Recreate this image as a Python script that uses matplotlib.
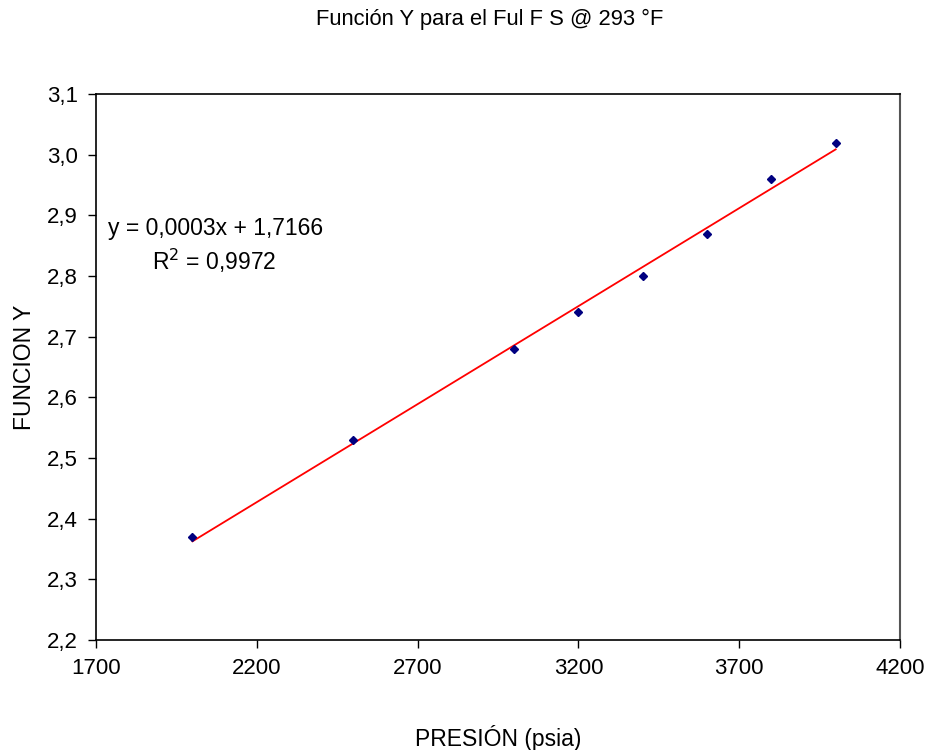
import numpy as np
import matplotlib
matplotlib.use("Agg")
from matplotlib import pyplot as plt
from matplotlib.ticker import FuncFormatter

plt.rcParams['font.family'] = ['Liberation Sans', 'DejaVu Sans']

presion = [2000, 2500, 3000, 3200, 3400, 3600, 3800, 4000]
funcion_y = [2.37, 2.53, 2.68, 2.74, 2.80, 2.87, 2.96, 3.02]
titulo = "Función Y para el Ful F S @ 293 °F"

fig = plt.figure(figsize=(9.29, 7.5), dpi=100)
ax = fig.add_axes([96 / 929, 1 - 640 / 750, 804 / 929, 546 / 750])

# tendencia lineal
m, b = np.polyfit(presion, funcion_y, 1)
xs = np.array([presion[0], presion[-1]])
ax.plot(xs, m * xs + b, color='red', lw=1.3, zorder=2)
ax.plot(presion, funcion_y, 'D', color='#000080', markersize=4.5, zorder=3)

ax.set_xlim(1700, 4200)
ax.set_ylim(2.2, 3.1)
ax.set_xticks(np.arange(1700, 4201, 500))
ax.set_yticks(np.arange(2.2, 3.11, 0.1))
ax.yaxis.set_major_formatter(FuncFormatter(lambda v, p: f"{v:.1f}".replace('.', ',')))
ax.tick_params(direction='out', length=6, width=1, labelsize=16, pad=7, colors='black')

for s in ['left', 'bottom', 'top']:
    ax.spines[s].set_color('black')
    ax.spines[s].set_linewidth(1.2)
ax.spines['right'].set_color('#555555')
ax.spines['right'].set_linewidth(1.5)

fig.text(490 / 929, 1 - 19 / 750, titulo, ha='center', va='center', fontsize=15.8)
fig.text(498 / 929, 1 - 738 / 750, "PRESIÓN (psia)", ha='center', va='center', fontsize=16.5)
fig.text(25 / 929, 1 - 367 / 750, "FUNCION Y", ha='center', va='center', rotation=90, fontsize=16.5)

r2 = np.corrcoef(presion, funcion_y)[0, 1] ** 2
eq = f"y = {m:.4f}x + {b:.4f}".replace('.', ',')
fig.text(216 / 929, 1 - 229 / 750, eq, ha='center', va='center', fontsize=16.5)
fig.text(214 / 929, 1 - 261 / 750, "R$^2$ = " + f"{r2:.4f}".replace('.', ','),
         ha='center', va='center', fontsize=16.5)

fig.savefig("out.png", dpi=100)
